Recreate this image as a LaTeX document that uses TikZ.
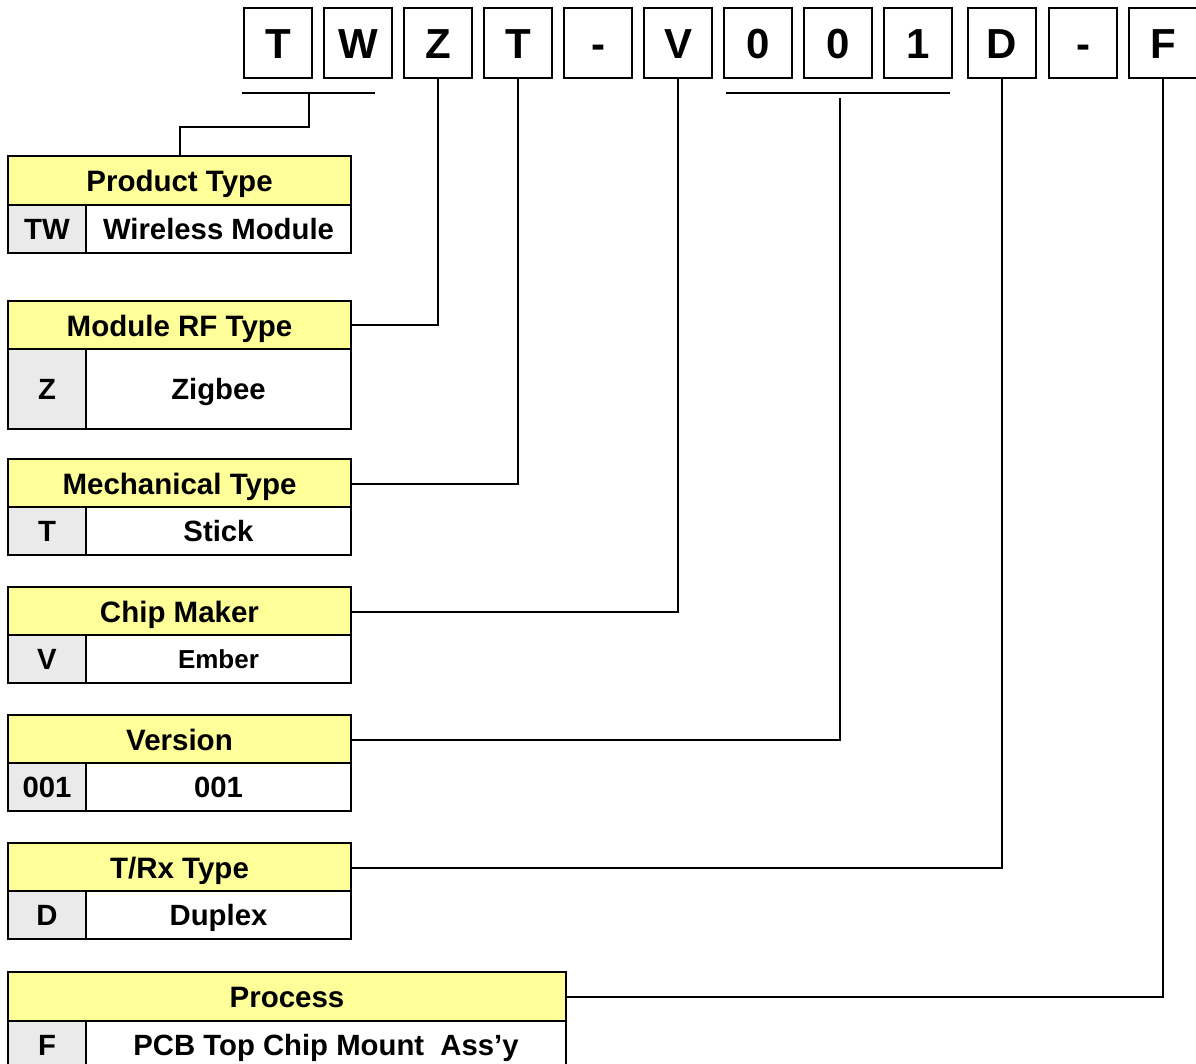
\documentclass[tikz,border=0pt]{standalone}
\usepackage{fontspec}
\setmainfont{Liberation Sans}
\definecolor{hdr}{HTML}{FFFF99}
\definecolor{keyc}{HTML}{EAEAEA}
\tikzset{
  ln/.style={line width=2pt},
  letter/.style={draw, ln, minimum width=68pt, minimum height=70pt, inner sep=0pt,
     text height=30.1pt, text depth=0pt,
     font=\fontsize{42}{44}\selectfont\bfseries},
  hdrbox/.style={draw, ln, fill=hdr, anchor=north west, minimum height=49pt, inner sep=0pt,
     text height=21.1pt, text depth=0pt,
     font=\fontsize{29.5}{31}\selectfont\bfseries},
  keybox/.style={draw, ln, fill=keyc, anchor=north west, minimum width=78pt, inner sep=0pt,
     text height=21pt, text depth=0pt,
     font=\fontsize{29.3}{31}\selectfont\bfseries},
  valbox/.style={draw, ln, fill=white, anchor=north west, inner sep=0pt,
     text height=21pt, text depth=0pt,
     font=\fontsize{29.3}{31}\selectfont\bfseries},
  smallval/.style={text height=18.6pt, font=\fontsize{26}{28}\selectfont\bfseries},
  conn/.style={ln}
}
\begin{document}
\begin{tikzpicture}[x=1pt,y=-1pt]
\useasboundingbox (0,0) rectangle (1196,1064);
% top letters
\node[letter] (l1) at (278,43) {T};
\node[letter] (l2) at (358,43) {W};
\node[letter] (l3) at (438,43) {Z};
\node[letter] (l4) at (518,43) {T};
\node[letter] (l5) at (598,43) {-};
\node[letter] (l6) at (678,43) {V};
\node[letter] (l7) at (758,43) {0};
\node[letter] (l8) at (838,43) {0};
\node[letter] (l9) at (918,43) {1};
\node[letter] (l10) at (1002,43) {D};
\node[letter] (l11) at (1083,43) {-};
\node[letter] (l12) at (1163,43) {F};
% Product type
\node[hdrbox, minimum width=343pt] (pt) at (7,155) {Product Type};
\node[keybox, minimum height=48pt] (ptk) at (7,204) {TW};
\node[valbox, minimum width=265pt, minimum height=48pt] (ptv) at (85,204) {Wireless Module};
% Module RF type
\node[hdrbox, minimum width=343pt] (rf) at (7,300) {Module RF Type};
\node[keybox, minimum height=80pt] (rfk) at (7,348) {Z};
\node[valbox, minimum width=265pt, minimum height=80pt] (rfv) at (85,348) {Zigbee};
% Mechanical type
\node[hdrbox, minimum width=343pt] (mt) at (7,458) {Mechanical Type};
\node[keybox, minimum height=48pt] (mtk) at (7,506) {T};
\node[valbox, minimum width=265pt, minimum height=48pt] (mtv) at (85,506) {Stick};
% Chip maker
\node[hdrbox, minimum width=343pt] (cm) at (7,586) {Chip Maker};
\node[keybox, minimum height=48pt] (cmk) at (7,634) {V};
\node[valbox, smallval, minimum width=265pt, minimum height=48pt] (cmv) at (85,634) {Ember};
% Version
\node[hdrbox, minimum width=343pt] (vr) at (7,714) {Version};
\node[keybox, minimum height=48pt] (vrk) at (7,762) {001};
\node[valbox, minimum width=265pt, minimum height=48pt] (vrv) at (85,762) {001};
% T/Rx type
\node[hdrbox, minimum width=343pt] (tr) at (7,842) {T/Rx Type};
\node[keybox, minimum height=48pt] (trk) at (7,890) {D};
\node[valbox, minimum width=265pt, minimum height=48pt] (trv) at (85,890) {Duplex};
% Process
\node[hdrbox, minimum width=558pt] (pr) at (7,971) {Process};
\node[keybox, minimum height=48pt] (prk) at (7,1020) {F};
\node[valbox, minimum width=480pt, minimum height=48pt] (prv) at (85,1020) {PCB Top Chip Mount\ \ Ass’y};
% connectors
\coordinate (u1a) at (242,93);
\coordinate (u1b) at (375,93);
\coordinate (u1m) at (309,93);
\coordinate (u1k) at (309,127);
\draw[conn] (u1a) -- (u1b);
\draw[conn] (u1m) -- (u1k) -| (pt.north);
\coordinate (u2a) at (726,93);
\coordinate (u2b) at (950,93);
\coordinate (u2m) at (840,98);
\draw[conn] (u2a) -- (u2b);
\draw[conn] (u2m) |- (vr.east);
\draw[conn] (l3.south) |- (rf.east);
\draw[conn] (l4.south) |- (mt.east);
\draw[conn] (l6.south) |- (cm.east);
\draw[conn] (l10.south) |- (tr.east);
\draw[conn] (l12.south) |- (pr.east);
\end{tikzpicture}
\end{document}
